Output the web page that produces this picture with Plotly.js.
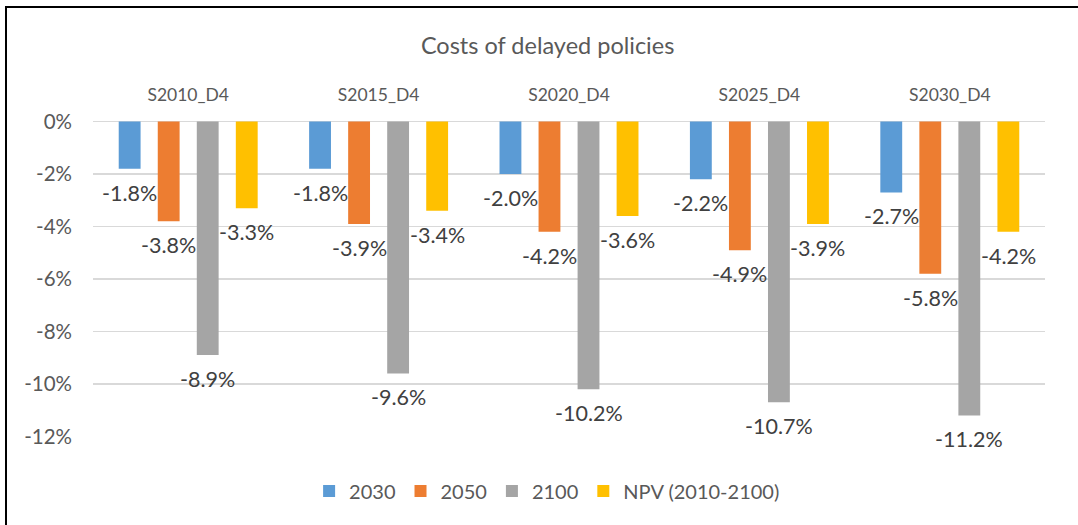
<!DOCTYPE html>
<html>
<head>
<meta charset="utf-8">
<script src="https://cdn.plot.ly/plotly-3.0.1.min.js"></script>
<style>
  html, body { margin: 0; padding: 0; background: #fff; }
  #chart { width: 1078px; height: 525px; }
  #frame { position: absolute; left: 5px; top: 6px; width: 1200px; height: 700px; border: 2px solid #000; pointer-events: none; }
</style>
</head>
<body>
<div id="chart"></div>
<div id="frame"></div>
<script>
const categories = ['S2010_D4', 'S2015_D4', 'S2020_D4', 'S2025_D4', 'S2030_D4'];
const seriesNames = ['2030', '2050', '2100', 'NPV (2010-2100)'];
const v2030 = [-1.8, -1.8, -2.0, -2.2, -2.7];
const v2050 = [-3.8, -3.9, -4.2, -4.9, -5.8];
const v2100 = [-8.9, -9.6, -10.2, -10.7, -11.2];
const vNPV  = [-3.3, -3.4, -3.6, -3.9, -4.2];
const colors = ['#5b9bd5', '#ed7d31', '#a5a5a5', '#ffc000'];
const yTicks = [0, -2, -4, -6, -8, -10, -12];
const yTickText = ['0%', '-2%', '-4%', '-6%', '-8%', '-10%', '-12%'];

const font = 'Lato, "Open Sans", sans-serif';
const txtColor = '#595959';
const allValues = [v2030, v2050, v2100, vNPV];
const bargap = 0.18;
const nSeries = allValues.length;

const traces = allValues.map((vals, i) => ({
  type: 'bar',
  name: seriesNames[i],
  x: categories,
  y: vals,
  marker: { color: colors[i] },
  hoverinfo: 'none'
}));

// data labels: placed below each bar end, at the bar's group offset
const annotations = [];
allValues.forEach((vals, i) => {
  const offset = (i - (nSeries - 1) / 2) * (1 - bargap) / nSeries;
  vals.forEach((v, j) => {
    annotations.push({
      xref: 'x', yref: 'y',
      x: j + offset, y: v,
      text: v.toFixed(1) + '%',
      showarrow: false,
      xanchor: 'center', yanchor: 'top',
      yshift: -9,
      font: { family: font, size: 21.5, color: '#404040' }
    });
  });
});

const layout = {
  width: 1078, height: 525,
  paper_bgcolor: '#ffffff', plot_bgcolor: '#ffffff',
  margin: { l: 93, r: 33, t: 121, b: 88 },
  title: { text: 'Costs of delayed policies', font: { family: font, size: 23.5, color: txtColor }, x: 0.508, xanchor: 'center', y: 0.913, yanchor: 'middle' },
  barmode: 'group',
  bargap: bargap,
  bargroupgap: 0.44,
  showlegend: true,
  legend: { orientation: 'h', x: 0.477, xanchor: 'center', y: -0.171, yanchor: 'middle', font: { family: font, size: 20, color: txtColor }, itemwidth: 30, traceorder: 'normal' },
  annotations: annotations,
  xaxis: {
    side: 'top', type: 'category',
    tickfont: { family: font, size: 17.5, color: txtColor },
    showgrid: false, showline: false, ticks: '', ticklabelstandoff: 16
  },
  yaxis: {
    range: [-12.02, 0.02],
    tickvals: yTicks, ticktext: yTickText,
    tickfont: { family: font, size: 20.5, color: txtColor },
    showgrid: true, gridcolor: '#d9d9d9', gridwidth: 1.5,
    zeroline: true, zerolinecolor: '#d9d9d9', zerolinewidth: 1.5,
    showline: false, ticks: '', ticklabelstandoff: 20
  }
};

Plotly.newPlot('chart', traces, layout, { displayModeBar: false, staticPlot: true });
</script>
</body>
</html>
